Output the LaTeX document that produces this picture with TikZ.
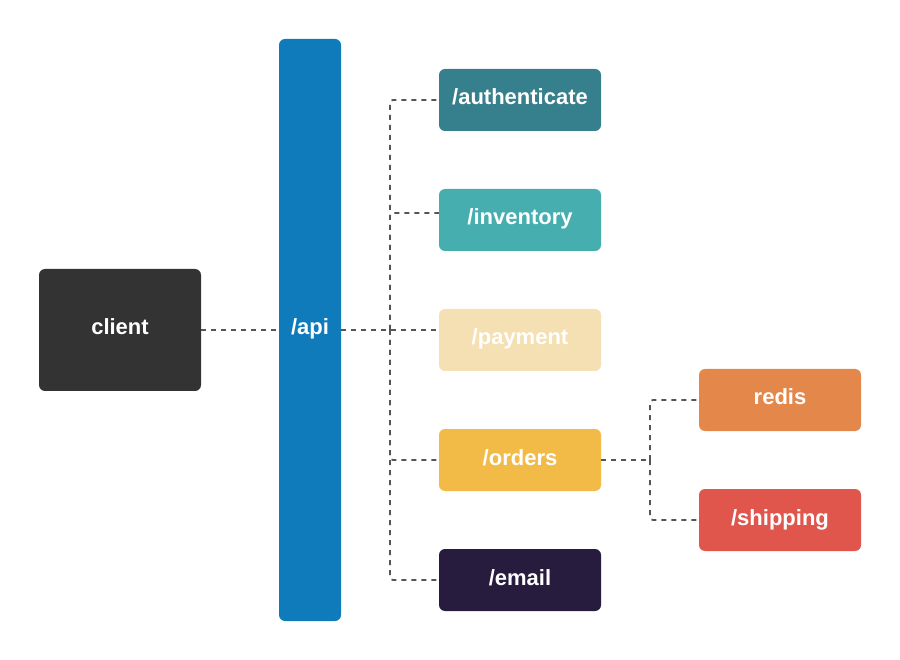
\documentclass[tikz,border=0pt]{standalone}
\usepackage{fontspec}
\setmainfont{Liberation Sans}
\usetikzlibrary{positioning}
\definecolor{clientgray}{HTML}{333333}
\definecolor{apiblue}{HTML}{0F7BBA}
\definecolor{authteal}{HTML}{367F8C}
\definecolor{invteal}{HTML}{47AEB0}
\definecolor{paysand}{HTML}{F4E0B3}
\definecolor{orderyellow}{HTML}{F2BB47}
\definecolor{emailnavy}{HTML}{271C3E}
\definecolor{redisorange}{HTML}{E4874A}
\definecolor{shipred}{HTML}{E0564C}
\definecolor{linkgray}{HTML}{555555}

\begin{document}
\begin{tikzpicture}[x=1pt,y=-1pt,
		box/.style={rounded corners=6pt, minimum width=162pt, minimum height=62pt,
			inner sep=0pt, text height=16pt, text depth=6pt, text=white,
			font=\bfseries\fontsize{22}{26}\selectfont},
		link/.style={draw=linkgray, line width=1.8pt, dash pattern=on 5pt off 5pt,
			rounded corners=3pt}]
		\useasboundingbox (0,0) rectangle (900,660);
		\node[box, fill=clientgray, minimum height=122pt] (client) at (120,330) {client};
		\node[box, fill=apiblue, minimum width=62pt, minimum height=582pt] (api) at (310,330) {/api};
		\node[box, fill=authteal] (auth) at (520,100) {/authenticate};
		\node[box, fill=invteal] (inv) at (520,220) {/inventory};
		\node[box, fill=paysand] (pay) at (520,340) {/payment};
		\node[box, fill=orderyellow] (orders) at (520,460) {/orders};
		\node[box, fill=emailnavy] (email) at (520,580) {/email};
		\node[box, fill=redisorange] (redis) at (780,400) {redis};
		\node[box, fill=shipred] (ship) at (780,520) {/shipping};
		\coordinate (trunk) at (390,330);
		\coordinate (split) at (650,460);
		\draw[link] (client.east) -- (api.west);
		\draw[link] (api.east) -- (trunk) -- (pay.west |- trunk);
		\draw[link] (trunk) |- (auth.west);
		\draw[link] (trunk) |- ([yshift=7pt]inv.west);
		\draw[link] (trunk) |- (orders.west);
		\draw[link] (trunk) |- (email.west);
		\draw[link] (orders.east) -- (split);
		\draw[link] (split) |- (redis.west);
		\draw[link] (split) |- (ship.west);
		\end{tikzpicture}
\end{document}
